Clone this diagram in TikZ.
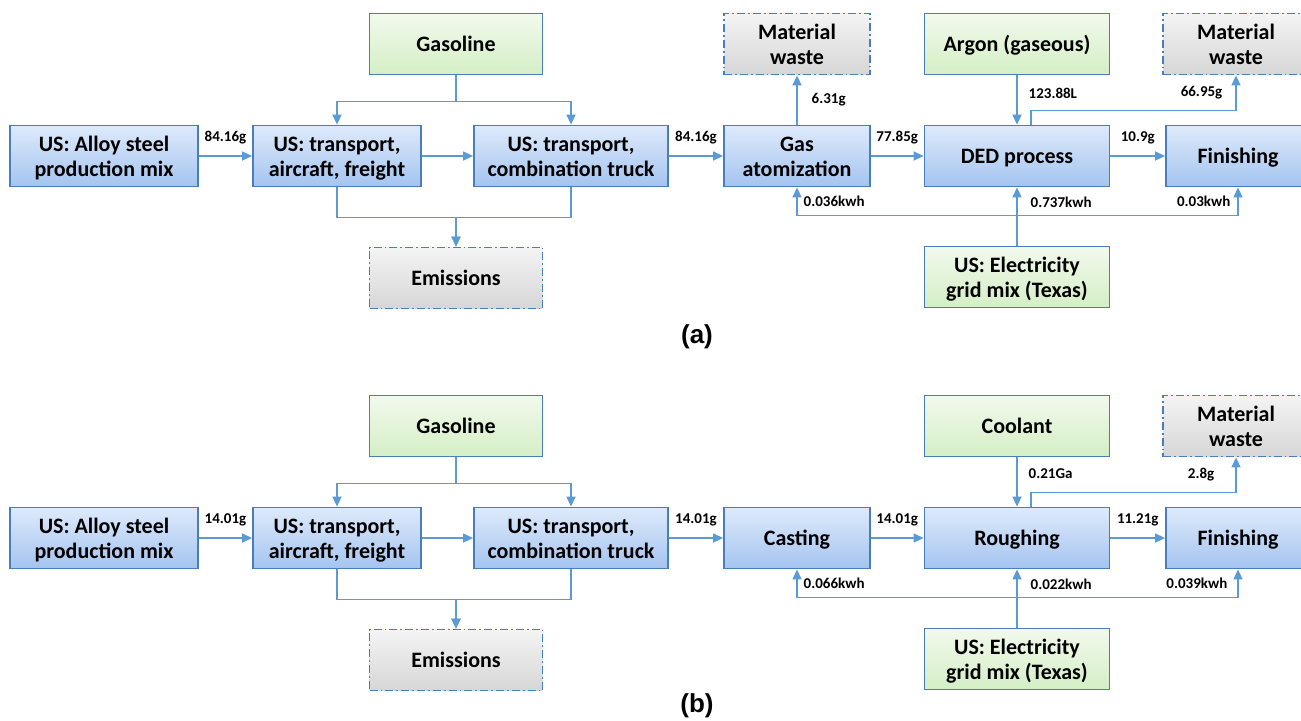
\documentclass[tikz,border=0pt]{standalone}
\usepackage{fontspec}
\setmainfont{Carlito}
\newfontfamily\capfont{Liberation Sans}
\usepackage{xcolor}
\usetikzlibrary{arrows.meta}
\usetikzlibrary{calc}

\definecolor{boxline}{RGB}{74,126,187}
\definecolor{flowline}{RGB}{91,155,213}
\definecolor{bluetop}{RGB}{222,234,251}
\definecolor{bluebot}{RGB}{164,196,240}
\definecolor{greentop}{RGB}{242,249,237}
\definecolor{greenbot}{RGB}{212,239,197}
\definecolor{graytop}{RGB}{244,244,244}
\definecolor{graybot}{RGB}{214,214,214}

\newcommand\topstrut{\rule{0pt}{10.8pt}}

\begin{document}
\begin{tikzpicture}[x=0.5pt,y=-0.5pt,>={Triangle[width=4.5pt,length=5pt]},
    proc/.style={draw=boxline,line width=0.9pt,top color=bluetop,bottom color=bluebot,align=center,
      font=\fontsize{11}{12.5}\selectfont\bfseries,minimum height=30.5pt,inner sep=1pt,
      execute at begin node={\rule[-2.5pt]{0pt}{12pt}}},
    res/.style={proc,top color=greentop,bottom color=greenbot},
    waste/.style={proc,top color=graytop,bottom color=graybot,dash pattern=on 4pt off 1.5pt on 0.9pt off 1.5pt},
    flow/.style={draw=flowline,line width=0.7pt,->},
    lbl/.style={font=\fontsize{7.5}{8}\selectfont\bfseries,inner sep=1pt},
    capt/.style={font=\capfont\fontsize{13}{15}\selectfont\bfseries}]
  \useasboundingbox (0,0) rectangle (1301,720);

  % (a) DED route
  \node[proc,minimum width=94pt] (alloyA) at (104,156) {\topstrut US: Alloy steel\\production mix};
  \node[proc,minimum width=84pt] (airA) at (337,156) {\topstrut US: transport,\\aircraft, freight};
  \node[proc,minimum width=97pt] (truckA) at (571,156) {\topstrut US: transport,\\combination truck};
  \node[res,minimum width=86.5pt] (gasA) at (456,44) {Gasoline};
  \node[waste,minimum width=86.5pt] (emisA) at (456,278) {Emissions};
  \node[proc,minimum width=73pt] (atomA) at (797,156) {\topstrut Gas\\atomization};
  \node[waste,minimum width=73pt] (wasteA) at (797,44) {\topstrut Material\\waste};
  \node[res,minimum width=92.5pt] (argonA) at (1017,44) {Argon (gaseous)};
  \node[proc,minimum width=92.5pt] (dedA) at (1017,156) {DED process};
  \node[proc,minimum width=72pt] (finA) at (1238,156) {Finishing};
  \node[waste,minimum width=73pt] (wasteAA) at (1236,44) {\topstrut Material\\waste};
  \node[res,minimum width=92.5pt] (elecA) at (1017,277) {\topstrut US: Electricity\\grid mix (Texas)};
  \node[capt] (capA) at (697,337) {(a)};

  \draw[flow] (alloyA) -- node[lbl,above=4.5pt] {84.16g} (airA);
  \draw[flow] (airA) -- (truckA);
  \draw[flow] (truckA) -- node[lbl,above=4.5pt] {84.16g} (atomA);
  \draw[flow] (atomA) -- node[lbl,above=4.5pt] {77.85g} (dedA);
  \draw[flow] (dedA) -- node[lbl,above=4.5pt] {10.9g} (finA);
  \draw[flow] (atomA) -- node[lbl,right=6pt] {6.31g} (wasteA);
  \draw[flow] (argonA) -- node[lbl,right=4.5pt,pos=0.36] {123.88L} (dedA);
  \draw[flow] ([xshift=7pt]dedA.north) -- ++(0,-14) -| node[lbl,left=5.5pt,pos=0.75] {66.95g} (wasteAA.south);
  \draw[flow] (gasA.south) -- ++(0,26) -| (airA.north);
  \draw[flow] (gasA.south) -- ++(0,26) -| (truckA.north);
  \draw[flow] (airA.south) -- ++(0,30) -| (emisA.north);
  \draw[flow] (truckA.south) -- ++(0,30) -| (emisA.north);
  \draw[flow] (elecA) -- node[lbl,right=5.5pt,pos=0.75] {0.737kwh} (dedA);
  \draw[flow] (elecA.north) -- ++(0,-30) -| node[lbl,right=2pt,pos=0.75] {0.036kwh} (atomA.south);
  \draw[flow] (elecA.north) -- ++(0,-30) -| node[lbl,left=2.5pt,pos=0.75] {0.03kwh} (finA.south);

  % (b) casting route
  \node[proc,minimum width=94pt] (alloyB) at (104,538) {\topstrut US: Alloy steel\\production mix};
  \node[proc,minimum width=84pt] (airB) at (337,538) {\topstrut US: transport,\\aircraft, freight};
  \node[proc,minimum width=97pt] (truckB) at (571,538) {\topstrut US: transport,\\combination truck};
  \node[res,minimum width=86.5pt] (gasB) at (456,426) {Gasoline};
  \node[waste,minimum width=86.5pt] (emisB) at (456,660) {Emissions};
  \node[proc,minimum width=73pt] (castB) at (797,538) {Casting};
  \node[res,minimum width=92.5pt] (coolB) at (1017,426) {Coolant};
  \node[proc,minimum width=92.5pt] (roughB) at (1017,538) {Roughing};
  \node[proc,minimum width=72pt] (finB) at (1238,538) {Finishing};
  \node[waste,minimum width=73pt] (wasteB) at (1236,426) {\topstrut Material\\waste};
  \node[res,minimum width=92.5pt] (elecB) at (1017,659) {\topstrut US: Electricity\\grid mix (Texas)};
  \node[capt] (capB) at (697,706) {(b)};

  \draw[flow] (alloyB) -- node[lbl,above=4.5pt] {14.01g} (airB);
  \draw[flow] (airB) -- (truckB);
  \draw[flow] (truckB) -- node[lbl,above=4.5pt] {14.01g} (castB);
  \draw[flow] (castB) -- node[lbl,above=4.5pt] {14.01g} (roughB);
  \draw[flow] (roughB) -- node[lbl,above=4.5pt] {11.21g} (finB);
  \draw[flow] (coolB) -- node[lbl,right=4.5pt,pos=0.33] {0.21Ga} (roughB);
  \draw[flow] ([xshift=7pt]roughB.north) -- ++(0,-14) -| node[lbl,left=9.5pt,pos=0.75] {2.8g} (wasteB.south);
  \draw[flow] (gasB.south) -- ++(0,26) -| (airB.north);
  \draw[flow] (gasB.south) -- ++(0,26) -| (truckB.north);
  \draw[flow] (airB.south) -- ++(0,30) -| (emisB.north);
  \draw[flow] (truckB.south) -- ++(0,30) -| (emisB.north);
  \draw[flow] (elecB) -- node[lbl,right=5.5pt,pos=0.75] {0.022kwh} (roughB);
  \draw[flow] (elecB.north) -- ++(0,-30) -| node[lbl,right=2pt,pos=0.75] {0.066kwh} (castB.south);
  \draw[flow] (elecB.north) -- ++(0,-30) -| node[lbl,left=4pt,pos=0.75] {0.039kwh} (finB.south);
\end{tikzpicture}
\end{document}
